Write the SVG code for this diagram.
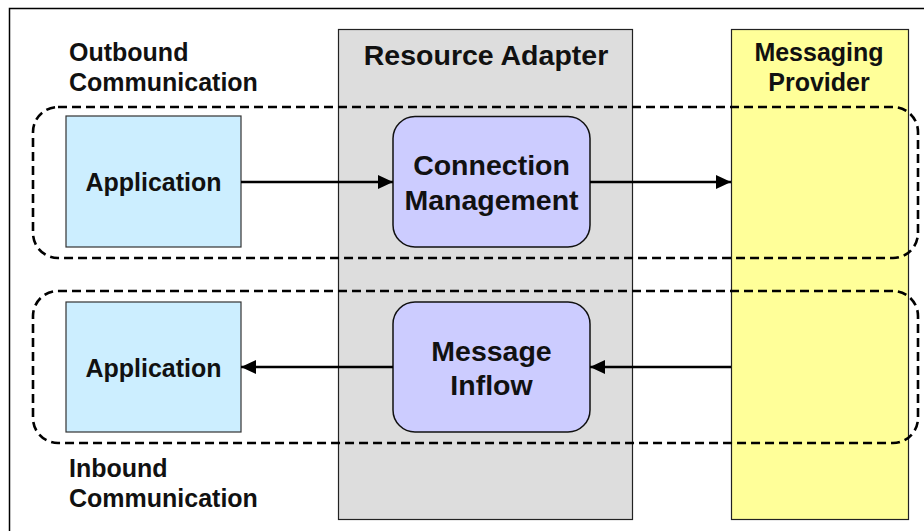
<svg xmlns="http://www.w3.org/2000/svg" width="924" height="531" viewBox="0 0 924 531">
<style>
text { font-family: "Liberation Sans", Arial, sans-serif; font-weight: bold; fill: #111; text-anchor: middle; }
.lbl { font-size: 25px; text-anchor: start; }
.hdr { font-size: 25px; }
.big { font-size: 28.5px; }
.app { fill: #CCEEFF; stroke: #333; stroke-width: 1.2; }
.fn { fill: #CCCCFF; stroke: #111; stroke-width: 1.5; }
.group { fill: none; stroke: #000; stroke-width: 2.6; stroke-dasharray: 9 5; }
.conn { stroke: #000; stroke-width: 2.6; fill: none; marker-end: url(#arrow); }
</style>
<defs>
<marker id="arrow" viewBox="0 0 15 14" refX="15" refY="7" markerWidth="15" markerHeight="14" markerUnits="userSpaceOnUse" orient="auto">
<path d="M0,0 L15,7 L0,14 Z" fill="#000"/>
</marker>
</defs>
<rect width="924" height="531" fill="#fff"/>
<path d="M9.5,531 V8.5 H924" fill="none" stroke="#000" stroke-width="1.5"/>
<g id="resource-adapter">
<rect x="338.5" y="29.5" width="294" height="490" fill="#DDDDDD" stroke="#222" stroke-width="1.2"/>
<text class="big" x="486" y="65">Resource Adapter</text>
</g>
<g id="messaging-provider">
<rect x="731.5" y="29.5" width="177" height="490" fill="#FFFF99" stroke="#222" stroke-width="1.2"/>
<text class="hdr" x="819" y="61">Messaging</text>
<text class="hdr" x="819" y="91">Provider</text>
</g>
<g id="outbound-communication">
<rect class="group" x="33" y="107" width="885" height="151" rx="25"/>
<text class="lbl" x="69" y="61">Outbound</text>
<text class="lbl" x="69" y="91">Communication</text>
</g>
<g id="inbound-communication">
<rect class="group" x="33" y="291" width="885" height="152" rx="25"/>
<text class="lbl" x="69" y="477">Inbound</text>
<text class="lbl" x="69" y="507">Communication</text>
</g>
<g id="application-out">
<rect class="app" x="66" y="116" width="175" height="131"/>
<text class="hdr" x="153.5" y="191">Application</text>
</g>
<g id="application-in">
<rect class="app" x="66" y="302" width="175" height="130"/>
<text class="hdr" x="153.5" y="377">Application</text>
</g>
<g id="connection-management">
<rect class="fn" x="393" y="116.5" width="197" height="130.5" rx="22"/>
<text class="big" x="491.5" y="175">Connection</text>
<text class="big" x="491.5" y="210">Management</text>
</g>
<g id="message-inflow">
<rect class="fn" x="393" y="302" width="197" height="130" rx="22"/>
<text class="big" x="491.5" y="361">Message</text>
<text class="big" x="491.5" y="395">Inflow</text>
</g>
<g id="connectors">
<line class="conn" x1="241" y1="182" x2="393" y2="182"/>
<line class="conn" x1="590" y1="182" x2="731" y2="182"/>
<line class="conn" x1="731" y1="367" x2="590" y2="367"/>
<line class="conn" x1="393" y1="367" x2="241" y2="367"/>
</g>
</svg>
